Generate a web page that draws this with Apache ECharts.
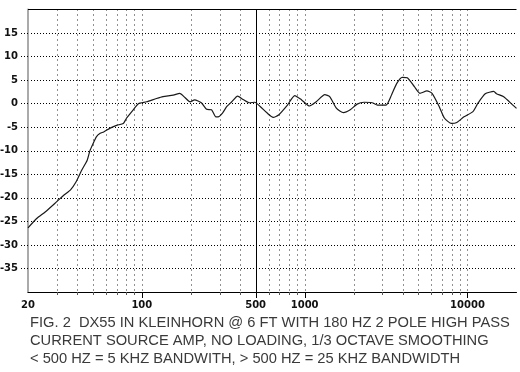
<!DOCTYPE html>
<html>
<head>
<meta charset="utf-8">
<script src="https://cdn.jsdelivr.net/npm/echarts@6/dist/echarts.min.js"></script>
<style>html,body{margin:0;padding:0;background:#fff;}#c{width:520px;height:372px;}</style>
</head>
<body>
<div id="c"></div>
<script>
// Frequency (Hz) and level (dB)
const freqs = [20, 22.6, 25.5, 29.2, 33, 36.5, 39.5, 42.8, 46.2, 48, 50, 52.7, 55.5, 58.3, 63.9, 70, 77, 80.5, 88.6, 95.3, 107, 123, 135, 156, 171, 184, 198, 211, 232, 250, 268, 285, 294, 313, 333, 357, 387, 419, 458, 494, 533, 589, 641, 692, 784, 869, 958, 1072, 1178, 1330, 1425, 1570, 1730, 1906, 2100, 2315, 2600, 2800, 3160, 3420, 3680, 3970, 4270, 4720, 5100, 5640, 6060, 6700, 7230, 7970, 8600, 9520, 10800, 11600, 12850, 14500, 15070, 16600, 19000, 20000];
const levels = [-26.4, -24.4, -23.0, -21.2, -19.5, -18.3, -16.6, -14.1, -12.0, -10.0, -8.6, -7.0, -6.3, -6.0, -5.2, -4.6, -4.2, -3.1, -1.3, 0, 0.4, 1.1, 1.5, 1.8, 2.2, 1.3, 0.4, 0.8, 0.2, -1.2, -1.3, -2.8, -2.8, -2.0, -0.6, 0.4, 1.6, 0.9, 0.2, 0.3, -0.6, -2.0, -2.9, -2.4, -0.3, 1.7, 0.8, -0.5, 0.4, 1.9, 1.5, -1.0, -1.9, -1.3, -0.1, 0.3, 0.2, -0.3, -0.3, 1.9, 4.3, 5.6, 5.5, 3.6, 2.2, 2.7, 2.2, -0.6, -3.1, -4.2, -4.0, -2.8, -1.7, 0.1, 2.1, 2.6, 2.1, 1.5, -0.3, -1.0];
const gridFreqs = [30, 40, 50, 60, 70, 80, 90, 100, 200, 300, 400, 600, 700, 800, 900, 1000, 2000, 3000, 4000, 5000, 6000, 7000, 8000, 9000, 10000];
const majorFreqs = [100, 500, 1000, 10000];
const markerFreq = [500];
const xLabels = [20, 100, 500, 1000, 10000];
const yLabels = [-35, -30, -25, -20, -15, -10, -5, 0, 5, 10, 15];
const captionLines = [
  'FIG. 2  DX55 IN KLEINHORN @ 6 FT WITH 180 HZ 2 POLE HIGH PASS',
  'CURRENT SOURCE AMP, NO LOADING, 1/3 OCTAVE SMOOTHING',
  '< 500 HZ = 5 KHZ BANDWITH, > 500 HZ = 25 KHZ BANDWIDTH'
];
const X_MIN = 20, X_MAX = 20000, Y_MIN = -40, Y_MAX = 20;

const chart = echarts.init(document.getElementById('c'), null, {renderer: 'canvas'});
const labelFont = {fontFamily: 'DejaVu Sans', fontWeight: 'bold', fontSize: 10, color: '#111'};

function vline(api, f, y1v, y2v, extraBelow, style) {
  const p1 = api.coord([f, y1v]);
  const p2 = api.coord([f, y2v]);
  const x = Math.round(p1[0]) + 0.5;
  return {type: 'line', shape: {x1: x, y1: p1[1], x2: x, y2: p2[1] + extraBelow}, style: style};
}

chart.setOption({
  animation: false,
  backgroundColor: '#fff',
  grid: {left: 28, right: 3.5, top: 9.5, bottom: 80, outerBoundsMode: 'none', containLabel: false},
  title: {
    text: captionLines.join('\n'),
    left: 30, top: 314, padding: 0,
    textStyle: {fontFamily: 'Liberation Sans', fontWeight: 'normal', fontSize: 14.7, lineHeight: 17.8, color: '#3a3a3a'}
  },
  xAxis: {
    type: 'log', logBase: 10, min: X_MIN, max: X_MAX,
    axisLine: {show: true, onZero: false, lineStyle: {color: '#000', width: 1}},
    axisTick: {show: false},
    splitLine: {show: false},
    axisLabel: {
      customValues: xLabels,
      formatter: v => String(Math.round(v)),
      margin: 8, ...labelFont
    }
  },
  yAxis: {
    type: 'value', min: Y_MIN, max: Y_MAX, interval: 5,
    axisLine: {show: true, lineStyle: {color: '#aaa', width: 2}},
    axisTick: {show: true, length: 8, lineStyle: {color: '#000', type: [1, 2]}},
    axisLabel: {showMinLabel: false, showMaxLabel: false, margin: 10, ...labelFont},
    splitLine: {show: true, lineStyle: {color: '#000', type: [1, 2], width: 1}}
  },
  series: [
    {
      type: 'custom', silent: true, z: 1,
      data: gridFreqs.map(f => [f]),
      renderItem: (params, api) => vline(api, api.value(0), Y_MAX, Y_MIN, 0, {stroke: '#222', lineDash: [1, 4], lineWidth: 1})
    },
    {
      type: 'custom', silent: true, z: 3, clip: false,
      data: gridFreqs.map(f => [f]),
      renderItem: (params, api) => vline(api, api.value(0), Y_MIN, Y_MIN, 3, {stroke: '#555', lineWidth: 1})
    },
    {
      type: 'custom', silent: true, z: 3, clip: false,
      data: majorFreqs.map(f => [f]),
      renderItem: (params, api) => vline(api, api.value(0), Y_MIN, Y_MIN, 6, {stroke: '#000', lineWidth: 1})
    },
    {
      type: 'custom', silent: true, z: 4, clip: false,
      data: markerFreq.map(f => [f]),
      renderItem: (params, api) => vline(api, api.value(0), Y_MAX, Y_MIN, 0, {stroke: '#000', lineWidth: 1})
    },
    {
      type: 'line', z: 5, symbol: 'none', smooth: 0.2,
      data: freqs.map((f, i) => [f, levels[i]]),
      lineStyle: {color: '#1a1a1a', width: 1.2},
      markLine: {
        silent: true, symbol: 'none', label: {show: false},
        lineStyle: {color: '#000', type: 'solid', width: 1},
        data: [{yAxis: Y_MAX}]
      }
    }
  ]
});
</script>
</body>
</html>
